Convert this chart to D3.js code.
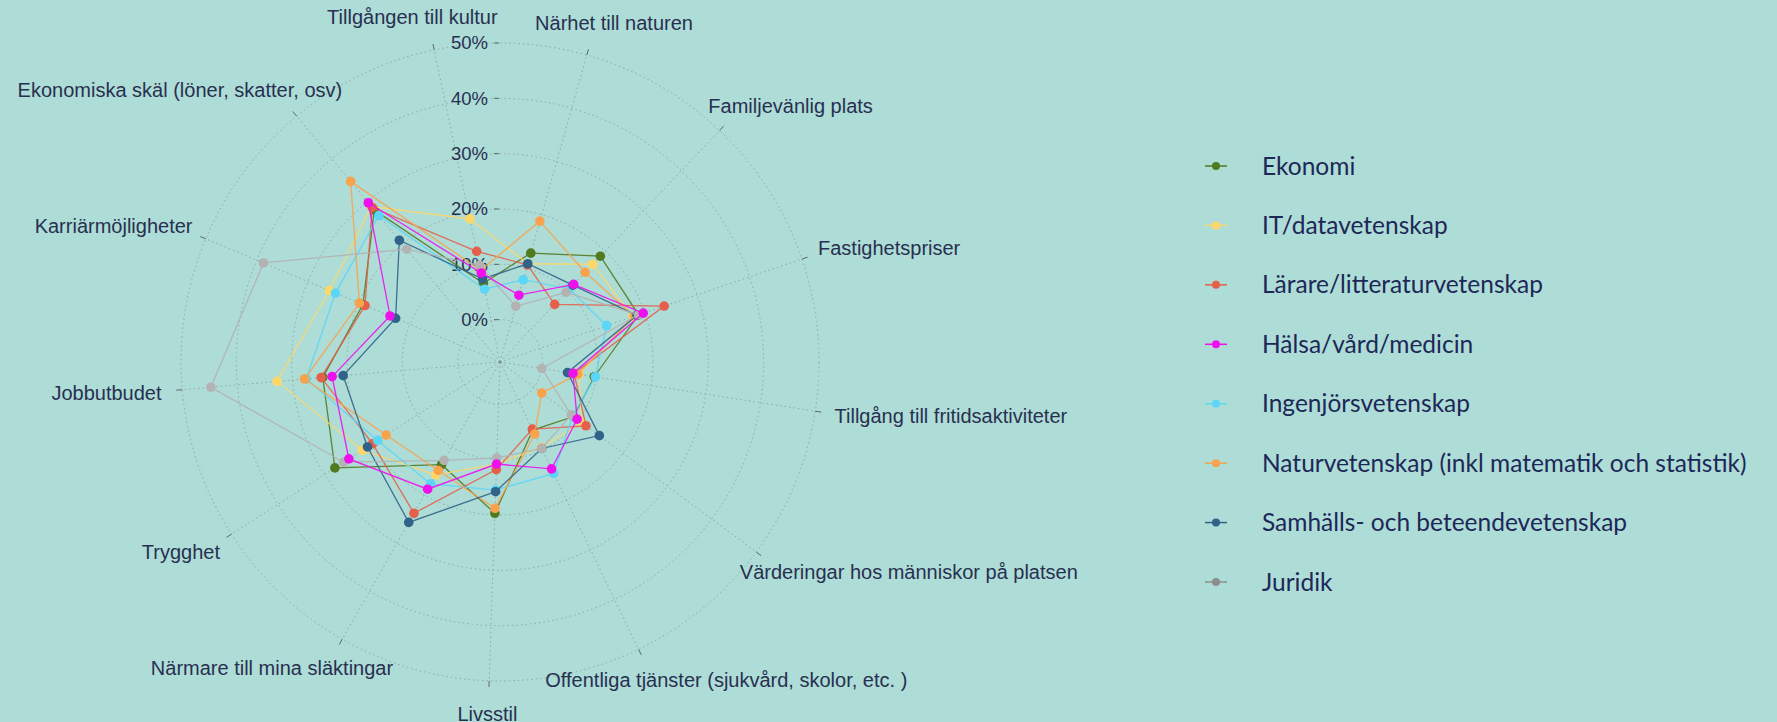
<!DOCTYPE html>
<html>
<head>
<meta charset="utf-8">
<script src="https://cdn.jsdelivr.net/npm/d3@7"></script>
<style>
body { margin: 0; background: #aedcd7; }
svg { display: block; }
.axislabel { font-family: "Liberation Sans", Arial, sans-serif; font-size: 20px; fill: #283050; }
.rlabel { font-family: "Liberation Sans", Arial, sans-serif; font-size: 18.5px; fill: #283050; }
.legend text { font-family: Lato, "Open Sans", sans-serif; font-size: 24.5px; fill: #1d2857; }
</style>
</head>
<body>
<svg id="chart" width="1777" height="722"></svg>
<script>
var width = 1777;
var height = 722;

// axis categories, clockwise from the top
var axes = [
    "Tillgången till kultur",
    "Närhet till naturen",
    "Familjevänlig plats",
    "Fastighetspriser",
    "Tillgång till fritidsaktiviteter",
    "Värderingar hos människor på platsen",
    "Offentliga tjänster (sjukvård, skolor, etc. )",
    "Livsstil",
    "Närmare till mina släktingar",
    "Trygghet",
    "Jobbutbudet",
    "Karriärmöjligheter",
    "Ekonomiska skäl (löner, skatter, osv)"
];

var series = [
    "Ekonomi",
    "IT/datavetenskap",
    "Lärare/litteraturvetenskap",
    "Hälsa/vård/medicin",
    "Ingenjörsvetenskap",
    "Naturvetenskap (inkl matematik och statistik)",
    "Samhälls- och beteendevetenskap",
    "Juridik"
];

// percentages, one per axis
var ekonomi  = [6.9, 12.8, 18.7, 18.8, 9.6, 8.9, 6.0, 19.7, 13.7, 27.8, 24.5, 19.2, 28.0];
var it       = [18.8, 10.8, 16.7, 17.7, 6.8, 10.8, 9.5, 10.8, 15.8, 21.9, 32.8, 25.8, 28.8];
var larare   = [12.8, 10.6, 6.7, 23.7, 5.9, 11.7, 5.8, 11.8, 23.8, 19.7, 24.8, 18.8, 28.6];
var halsa    = [8.8, 4.9, 11.7, 19.7, 5.7, 9.7, 13.8, 10.8, 18.8, 24.8, 22.8, 13.9, 29.7];
var ingenjor = [5.8, 7.8, 10.6, 12.7, 9.8, 8.7, 14.7, 15.5, 17.7, 18.6, 27.5, 24.6, 26.7];
var natur    = [9.3, 18.8, 14.7, 18.0, 6.6, 1.75, 6.8, 18.8, 14.9, 16.8, 27.8, 19.9, 34.7];
var samhalls = [7.7, 10.8, 11.5, 18.5, 4.7, 14.7, 9.7, 15.8, 25.7, 20.8, 20.8, 12.8, 20.9];
var juridik  = [10.2, 2.8, 9.7, 18.8, 0.0, 8.4, 9.7, 9.7, 12.8, 25.9, 44.8, 38.7, 18.8];

var radialTicks = [0, 10, 20, 30, 40, 50];

var colors = ["#527a1e", "#fdd868", "#e4604a", "#ee11ee", "#5bd6f6", "#f9a24c", "#31638a", "#b3b3b3"];
var legendColors = ["#527a1e", "#fdd868", "#e4604a", "#ee11ee", "#5bd6f6", "#f9a24c", "#31638a", "#8c8c8c"];

var values = [ekonomi, it, larare, halsa, ingenjor, natur, samhalls, juridik];

var cx = 500, cy = 362, rOuter = 319;
var rot = -11.9 * Math.PI / 180;

var r = d3.scaleLinear().domain([-7.65, 50]).range([0, rOuter]);
var angle = d3.scalePoint()
    .domain(axes)
    .range([rot, rot + 2 * Math.PI * (axes.length - 1) / axes.length]);

var svg = d3.select("#chart");
var chart = svg.append("g")
    .attr("transform", "translate(" + cx + "," + cy + ")");

// grid circles
chart.append("g").selectAll("circle")
    .data(radialTicks)
    .enter().append("circle")
    .attr("r", function(d) { return r(d); })
    .attr("fill", "none")
    .attr("stroke", "#8fa8a6")
    .attr("stroke-width", 1)
    .attr("stroke-dasharray", "1.5,3");

// spokes
chart.append("g").selectAll("line")
    .data(axes)
    .enter().append("line")
    .attr("x1", 0).attr("y1", 0)
    .attr("x2", function(d) { return d3.pointRadial(angle(d), rOuter)[0]; })
    .attr("y2", function(d) { return d3.pointRadial(angle(d), rOuter)[1]; })
    .attr("stroke", "#8fa8a6")
    .attr("stroke-width", 1)
    .attr("stroke-dasharray", "1.5,3");

// outer ticks
chart.append("g").selectAll("line")
    .data(axes)
    .enter().append("line")
    .attr("x1", function(d) { return d3.pointRadial(angle(d), rOuter)[0]; })
    .attr("y1", function(d) { return d3.pointRadial(angle(d), rOuter)[1]; })
    .attr("x2", function(d) { return d3.pointRadial(angle(d), rOuter + 6)[0]; })
    .attr("y2", function(d) { return d3.pointRadial(angle(d), rOuter + 6)[1]; })
    .attr("stroke", "#5c6470")
    .attr("stroke-width", 1);

chart.append("circle").attr("r", 1.5).attr("fill", "#7d8f8d");

// angular labels, box pushed outward from the circle
chart.append("g").selectAll("text")
    .data(axes)
    .enter().append("text")
    .attr("class", "axislabel")
    .attr("text-anchor", "middle")
    .attr("dy", "0.35em")
    .text(function(d) { return d; })
    .each(function(d) {
        var a = angle(d);
        var w = this.getComputedTextLength();
        var p = d3.pointRadial(a, 340);
        d3.select(this)
            .attr("x", p[0] + Math.sin(a) * w / 2)
            .attr("y", p[1] - Math.cos(a) * 12.5);
    });

// radial axis ticks and labels
var rg = chart.append("g");
rg.selectAll("line")
    .data(radialTicks)
    .enter().append("line")
    .attr("x1", -6).attr("x2", -1)
    .attr("y1", function(d) { return -r(d); })
    .attr("y2", function(d) { return -r(d); })
    .attr("stroke", "#5c6470");
rg.selectAll("text")
    .data(radialTicks)
    .enter().append("text")
    .attr("class", "rlabel")
    .attr("text-anchor", "end")
    .attr("x", -12)
    .attr("y", function(d) { return -r(d); })
    .attr("dy", "0.35em")
    .text(function(d) { return d + "%"; });

// series
var line = d3.lineRadial()
    .angle(function(d, i) { return angle(axes[i]); })
    .radius(function(d) { return r(d); })
    .curve(d3.curveLinearClosed);

var traces = chart.append("g").selectAll("g")
    .data(values)
    .enter().append("g");

traces.append("path")
    .attr("d", function(d) { return line(d); })
    .attr("fill", "none")
    .attr("stroke", function(d, i) { return colors[i]; })
    .attr("stroke-width", 1.3)
    .attr("stroke-opacity", 0.9);

traces.each(function(vals, i) {
    d3.select(this).selectAll("circle")
        .data(vals)
        .enter().append("circle")
        .attr("cx", function(d, j) { return d3.pointRadial(angle(axes[j]), r(d))[0]; })
        .attr("cy", function(d, j) { return d3.pointRadial(angle(axes[j]), r(d))[1]; })
        .attr("r", 4.8)
        .attr("fill", colors[i]);
});

// magenta sits on top in the original
traces.filter(function(d, i) { return i === 3; }).raise();

// legend
var ly = d3.scalePoint().domain(series).range([166, 582]);
var legend = svg.append("g").attr("class", "legend");
var item = legend.selectAll("g")
    .data(series)
    .enter().append("g")
    .attr("transform", function(d) { return "translate(1205," + ly(d) + ")"; });
item.append("line")
    .attr("x1", 0).attr("x2", 22)
    .attr("stroke", function(d, i) { return legendColors[i]; })
    .attr("stroke-width", 1.5);
item.append("circle")
    .attr("cx", 11).attr("r", 4)
    .attr("fill", function(d, i) { return legendColors[i]; });
item.append("text")
    .attr("x", 57)
    .attr("dy", "0.35em")
    .text(function(d) { return d; });
</script>
</body>
</html>
